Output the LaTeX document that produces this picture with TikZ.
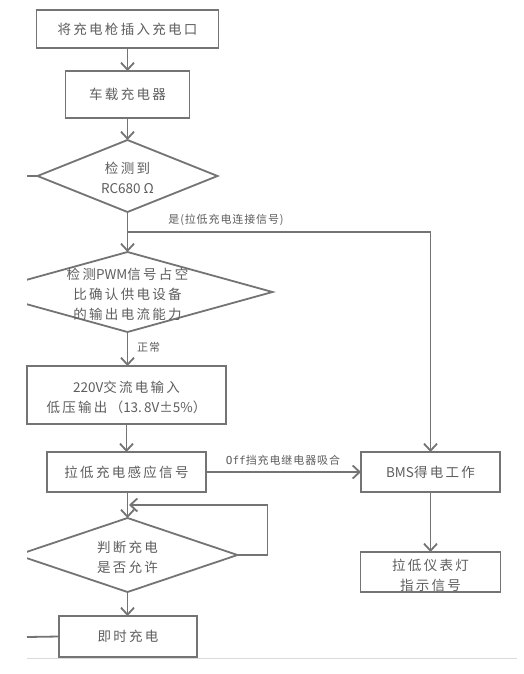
\documentclass[tikz,border=0pt]{standalone}
\usepackage{fontspec}
\setmainfont{Noto Sans CJK SC}[LetterSpace=17]
\newfontfamily\lat{Noto Sans CJK SC}
\newfontfamily\labfont{Noto Sans CJK SC}[LetterSpace=8]
\newfontfamily\offfont{DejaVu Sans Mono}
\usetikzlibrary{arrows.meta,shapes.geometric}
\definecolor{ln}{HTML}{747474}
\definecolor{tx}{HTML}{5E5E5E}
\definecolor{sepc}{HTML}{DADADA}
\tikzset{
  txt/.style={font=\fontsize{13.5pt}{20pt}\selectfont, text=tx, align=center, inner sep=0pt},
  lab/.style={font=\labfont\fontsize{11pt}{13pt}\selectfont, text=tx, inner sep=0pt},
  box/.style={draw=ln, line width=1.8pt, inner sep=0pt, outer sep=0pt, txt},
  dia/.style={draw=ln, line width=1.8pt, shape=diamond, inner sep=0pt, outer sep=0pt},
  conn/.style={draw=ln, line width=1.8pt},
  arr/.style={conn, -{Straight Barb[length=7pt,width=13pt]}},
}
\begin{document}
\begin{tikzpicture}[x=1pt,y=-1pt]
\useasboundingbox (0,0) rectangle (524,674);
\fill[white] (0,0) rectangle (524,674);

\node[box, minimum width=182pt, minimum height=38pt] (b1) at (127.5,29) {将充电枪插入充电口};
\node[box, minimum width=124pt, minimum height=47pt] (b2) at (127.5,94.5) {车载充电器};
\node[dia, minimum width=180pt, minimum height=72pt,
      label={[txt,yshift=-2pt]center:检测到\\{\lat RC680 Ω}}] (d1) at (127.5,176) {};

\begin{scope}
\clip (27,0) rectangle (524,674);
\node[dia, minimum width=290pt, minimum height=80pt,
      label={[txt,yshift=-2pt]center:检测{\lat PWM}信号占空\\比确认供电设备\\的输出电流能力}] (d2) at (127.5,292) {};
\node[dia, minimum width=220pt, minimum height=74pt,
      label={[txt,yshift=-2pt]center:判断充电\\是否允许}] (d3) at (127.5,555) {};
\end{scope}

\node[box, minimum width=199pt, minimum height=58pt,
      label={[txt,yshift=-2pt]center:{\lat 220V}交流电输入\\低压输出（{\lat 13.\,8V}±{\lat 5\%}）}] (b3) at (126.5,395) {};
\node[box, minimum width=159pt, minimum height=40pt] (b4) at (126.5,472) {拉低充电感应信号};
\node[box, minimum width=139pt, minimum height=40pt] (bms) at (430.5,472) {{\lat BMS}得电工作};
\node[box, minimum width=140pt, minimum height=40pt,
      label={[txt,yshift=-3pt]center:拉低仪表灯\\指示信号}] (ind) at (430.5,572) {};
\node[box, minimum width=138pt, minimum height=41pt] (b5) at (128,636.5) {即时充电};

% connectors
\draw[arr] (b1) -- (b2);
\draw[arr] (b2) -- (d1);
\draw[arr] (d1.south) -- (d2.north);
\coordinate (br) at (127.5,232);
\draw[arr] (br) -| (bms.north);
\node[lab] (lyes) at (226,220) {是(拉低充电连接信号)};
\draw[arr] (d2.south) -- (b3.north -| d2.south);
\node[lab, anchor=west] (lok) at (137,347) {正常};
\draw[arr] (b3.south -| b4.north) -- (b4.north);
\draw[arr] (b4) -- (bms);
\node[lab] (loff) at (283,460) {{\offfont Off}挡充电继电器吸合};
\draw[arr] (bms) -- (ind);
\draw[arr] (b4.south -| d3.north) -- (d3.north);
\coordinate (lp) at (129,505);
\draw[arr] (d3.east) -- ++(30,0) |- (lp);
\draw[arr] (d3.south) -- (b5.north -| d3.south);

% free ends to the left
\coordinate (e1) at (27,176);
\draw[conn] (d1.west) -- (e1);
\coordinate (e5) at (27,637);
\draw[conn] (b5.west) -- (e5);

% page separator
\coordinate (sl) at (27,658.5);
\coordinate (sr) at (517,658.5);
\draw[sepc, line width=1.2pt] (sl) -- (sr);
\end{tikzpicture}
\end{document}
